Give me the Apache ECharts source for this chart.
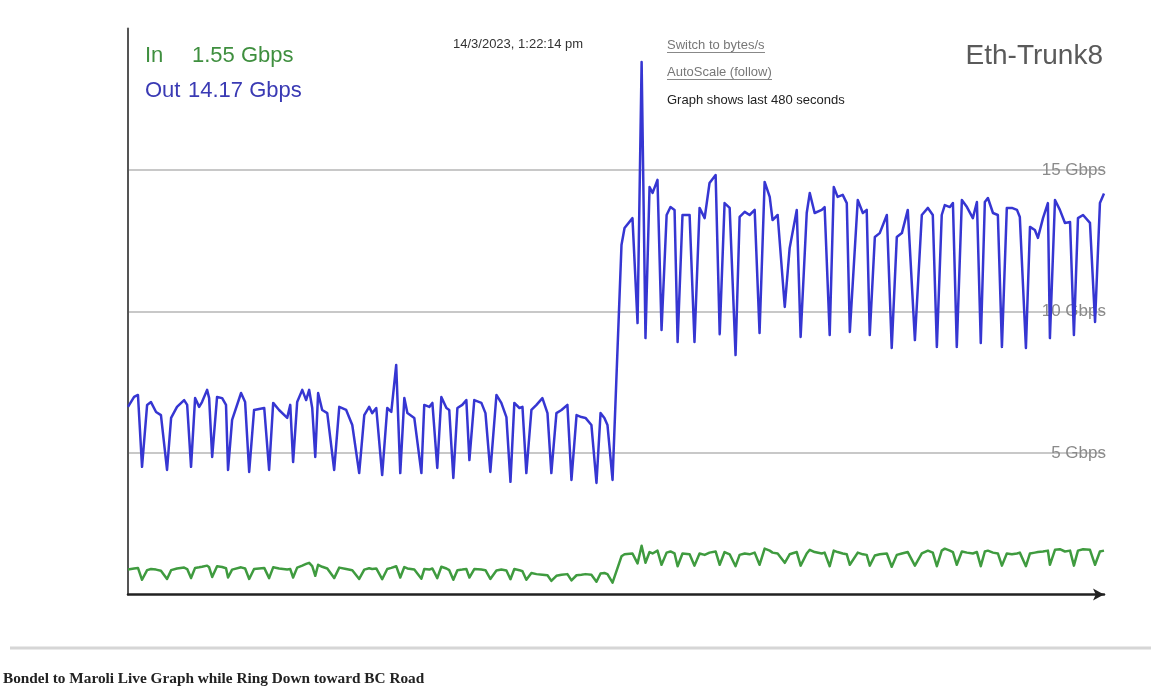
<!DOCTYPE html>
<html>
<head>
<meta charset="utf-8">
<script src="https://cdn.jsdelivr.net/npm/echarts@6/dist/echarts.min.js"></script>
<style>
html,body{margin:0;padding:0;background:#fff;}
#chart{width:1151px;height:693px;}
</style>
</head>
<body>
<div id="chart"></div>
<script>
// Sample times (seconds within the 480 s window)
const sampleTime = [0,3.0,4.9,6.9,9.4,11.3,13.8,16.2,19.2,21.2,24.1,27.6,29.1,31.0,33.0,35.0,36.4,38.9,39.9,41.4,
43.8,46.3,48.2,49.2,51.2,55.6,57.6,59.6,62.0,67.0,67.9,69.4,71.4,74.3,78.3,79.8,81.2,83.2,85.7,87.6,
89.1,90.6,92.1,93.5,95.5,98.0,101.4,103.9,107.3,110.3,113.7,116.2,118.6,120.1,122.1,125.0,127.5,129.5,131.9,133.9,
135.9,137.4,140.8,144.3,145.7,148.2,149.7,152.1,154.1,156.6,158.0,160.0,162.0,164.4,166.4,167.9,170.3,173.8,175.8,178.2,
181.2,183.6,186.1,188.1,190.0,192.5,194.0,195.9,198.4,200.9,203.8,206.3,208.2,210.7,213.2,216.1,218.1,220.6,223.0,225.0,
227.9,230.4,232.4,234.3,235.8,238.3,242.7,244.2,248.1,250.6,252.6,254.5,256.5,258.0,260.4,262.4,264.9,266.8,268.8,270.3,
272.7,276.2,278.6,281.1,283.6,286.0,289.0,291.0,293.4,295.9,298.8,300.8,303.3,305.7,308.2,310.6,313.1,315.6,317.0,319.5,
323.0,325.4,328.9,330.8,333.8,335.3,337.7,341.2,342.6,345.1,347.1,349.0,351.5,353.5,355.0,358.9,361.4,363.3,364.8,367.3,
369.7,373.2,375.6,378.1,380.6,383.5,387.0,390.4,393.4,395.8,397.8,400.2,401.7,404.2,405.7,407.6,410.1,412.6,415.5,417.5,
419.4,421.4,422.9,425.4,427.8,429.8,432.2,434.7,437.2,438.6,441.6,443.6,446.0,447.5,450.0,452.4,453.4,455.9,458.3,460.8,
463.3,465.2,467.2,469.7,473.1,475.6,478.0,480.0];

// Outbound traffic, Gbps
const outGbps = [6.63,6.98,7.05,4.51,6.70,6.80,6.45,6.34,4.40,6.24,6.63,6.87,6.70,4.51,6.94,6.63,6.80,7.23,6.94,4.86,
6.98,6.94,6.70,4.40,6.17,7.12,6.80,4.33,6.52,6.59,6.52,4.40,6.77,6.52,6.24,6.70,4.68,6.80,7.23,6.87,
7.23,6.59,4.86,7.12,6.52,6.41,4.40,6.63,6.52,5.99,4.29,6.34,6.63,6.41,6.59,4.22,6.59,6.45,8.11,4.29,
6.94,6.41,6.24,4.29,6.70,6.63,6.77,4.47,6.98,6.59,6.52,4.12,6.59,6.70,6.87,4.75,6.87,6.77,6.41,4.33,
7.05,6.77,6.27,3.98,6.77,6.59,6.63,4.29,6.52,6.70,6.94,6.41,4.29,6.41,6.52,6.70,4.05,6.34,6.27,6.24,
5.99,3.94,6.41,6.24,5.99,4.05,12.35,12.95,13.30,9.59,18.82,9.06,14.40,14.19,14.65,9.35,13.41,13.69,13.59,8.92,
13.41,13.41,8.92,13.66,13.30,14.54,14.82,9.20,13.83,13.66,8.46,13.34,13.52,13.41,13.59,9.24,14.58,14.05,13.23,13.41,
10.16,12.24,13.59,9.10,13.48,14.19,13.48,13.59,13.69,9.17,14.40,14.05,14.12,13.83,9.28,13.94,13.48,13.59,9.17,12.63,
12.77,13.41,8.71,12.63,12.77,13.59,8.99,13.41,13.66,13.41,8.75,13.41,13.76,13.69,13.83,8.75,13.94,13.69,13.30,13.87,
8.89,13.87,14.01,13.48,13.41,8.75,13.66,13.66,13.59,13.34,8.71,12.99,12.88,12.60,13.30,13.83,9.06,13.94,13.59,13.13,
13.16,9.17,13.30,13.41,13.13,9.63,13.83,14.17];

// Inbound traffic, Gbps
const inGbps = [0.88,0.92,0.94,0.52,0.86,0.90,0.88,0.84,0.55,0.86,0.92,0.95,0.90,0.58,0.94,0.96,0.98,1.02,0.96,0.62,
1.00,0.97,0.93,0.60,0.88,0.96,0.92,0.55,0.90,0.94,0.92,0.58,0.96,0.92,0.88,0.90,0.60,0.95,1.02,1.08,
1.12,1.00,0.66,1.05,0.98,0.92,0.58,0.95,0.90,0.86,0.55,0.88,0.93,0.90,0.92,0.54,0.90,0.94,1.00,0.60,
0.97,0.92,0.88,0.56,0.90,0.88,0.92,0.58,0.98,0.92,0.86,0.52,0.86,0.88,0.90,0.60,0.90,0.88,0.86,0.55,
0.85,0.88,0.85,0.54,0.90,0.86,0.82,0.52,0.76,0.72,0.70,0.68,0.48,0.66,0.70,0.72,0.50,0.68,0.70,0.72,
0.70,0.45,0.74,0.76,0.72,0.42,1.35,1.42,1.45,1.10,1.72,1.12,1.50,1.45,1.55,1.05,1.48,1.52,1.45,1.00,
1.45,1.42,1.02,1.45,1.40,1.48,1.52,1.05,1.50,1.42,1.00,1.40,1.45,1.42,1.48,1.05,1.62,1.55,1.48,1.45,
1.12,1.42,1.50,1.02,1.45,1.58,1.50,1.45,1.48,1.00,1.55,1.50,1.45,1.42,1.05,1.48,1.42,1.40,1.02,1.38,
1.42,1.45,0.98,1.40,1.45,1.50,1.02,1.45,1.55,1.48,1.00,1.55,1.62,1.55,1.50,1.05,1.52,1.48,1.45,1.50,
1.00,1.52,1.55,1.48,1.45,1.02,1.45,1.42,1.45,1.48,1.00,1.45,1.48,1.50,1.52,1.55,1.05,1.58,1.60,1.52,
1.55,1.02,1.55,1.60,1.58,1.05,1.52,1.55];

// Y axis tick labels shown on the grid lines
const gridTickValues = [5, 10, 15];
const windowSeconds = 480;

const ifName = 'Eth-Trunk8';
const timestamp = '14/3/2023, 1:22:14 pm';
const caption = 'Bondel to Maroli Live Graph while Ring Down toward BC Road';

const outData = sampleTime.map((t, i) => [t, outGbps[i]]);
const inData = sampleTime.map((t, i) => [t, inGbps[i]]);

const NARROW = '"Liberation Sans Narrow", "Arial Narrow", "Liberation Sans", sans-serif';
const SANS = '"Liberation Sans", Arial, sans-serif';

const chart = echarts.init(document.getElementById('chart'), null, {renderer: 'canvas'});
chart.setOption({
  backgroundColor: '#ffffff',
  animation: false,
  grid: {left: 128, right: 47, top: 28.5, bottom: 98.5},
  xAxis: {
    type: 'value', min: 0, max: windowSeconds,
    axisLine: {show: true, lineStyle: {color: '#222', width: 2.5}, symbol: ['none', 'arrow'], symbolSize: [9, 11]},
    axisTick: {show: false}, axisLabel: {show: false}, splitLine: {show: false}
  },
  yAxis: [
    {
      type: 'value', min: 0, max: 20, interval: 5, position: 'left',
      axisLine: {show: true, onZero: false, lineStyle: {color: '#555', width: 2}},
      axisTick: {show: false}, axisLabel: {show: false}, splitLine: {show: false}
    },
    {
      type: 'value', min: 0, max: 20, interval: 5, position: 'right',
      axisLine: {show: false}, axisTick: {show: false},
      splitLine: {show: true, showMinLine: false, showMaxLine: false, lineStyle: {color: '#c8c8c8', width: 2}},
      axisLabel: {
        show: true, inside: true, margin: -2,
        formatter: v => gridTickValues.indexOf(v) >= 0 ? v + ' Gbps' : '',
        color: '#8a8a8a', fontSize: 17, fontFamily: NARROW,
        padding: [0, 0, 14, 0]
      }
    }
  ],
  series: [
    {
      name: 'In', type: 'line', data: inData, showSymbol: false, yAxisIndex: 0,
      lineStyle: {color: '#3f9b3f', width: 2.5, join: 'round'}, z: 3
    },
    {
      name: 'Out', type: 'line', data: outData, showSymbol: false, yAxisIndex: 0,
      lineStyle: {color: '#3636d2', width: 2.5, join: 'round'}, z: 4
    }
  ],
  graphic: [
    {type: 'text', style: {text: 'In', x: 145, y: 56, font: '22px ' + NARROW, fill: '#3f8f3f', textVerticalAlign: 'middle'}},
    {type: 'text', style: {text: inGbps[inGbps.length - 1].toFixed(2) + ' Gbps', x: 192, y: 56, font: '22px ' + NARROW, fill: '#3f8f3f', textVerticalAlign: 'middle'}},
    {type: 'text', style: {text: 'Out', x: 145, y: 91, font: '22px ' + NARROW, fill: '#3a3ab4', textVerticalAlign: 'middle'}},
    {type: 'text', style: {text: outGbps[outGbps.length - 1].toFixed(2) + ' Gbps', x: 188, y: 91, font: '22px ' + NARROW, fill: '#3a3ab4', textVerticalAlign: 'middle'}},
    {type: 'text', style: {text: ifName, x: 1103, y: 56, font: '28px ' + NARROW, fill: '#5a5a5a', textAlign: 'right', textVerticalAlign: 'middle'}},
    {type: 'text', style: {text: timestamp, x: 453, y: 44, font: '13px ' + SANS, fill: '#333', textVerticalAlign: 'middle'}},
    {type: 'text', style: {text: 'Switch to bytes/s', x: 667, y: 45, font: '13px ' + SANS, fill: '#777', textVerticalAlign: 'middle'}},
    {type: 'line', shape: {x1: 667, y1: 52.5, x2: 765, y2: 52.5}, style: {stroke: '#888', lineWidth: 1}},
    {type: 'text', style: {text: 'AutoScale (follow)', x: 667, y: 72, font: '13px ' + SANS, fill: '#777', textVerticalAlign: 'middle'}},
    {type: 'line', shape: {x1: 667, y1: 79.5, x2: 772, y2: 79.5}, style: {stroke: '#888', lineWidth: 1}},
    {type: 'text', style: {text: 'Graph shows last ' + windowSeconds + ' seconds', x: 667, y: 100, font: '13px ' + SANS, fill: '#222', textVerticalAlign: 'middle'}},
    {type: 'line', shape: {x1: 10, y1: 648, x2: 1151, y2: 648}, style: {stroke: '#d6d6d6', lineWidth: 3}},
    {type: 'text', style: {text: caption, x: 3, y: 679, font: 'bold 15.3px "Liberation Serif", serif', fill: '#222', textVerticalAlign: 'middle'}}
  ]
});
</script>
</body>
</html>
